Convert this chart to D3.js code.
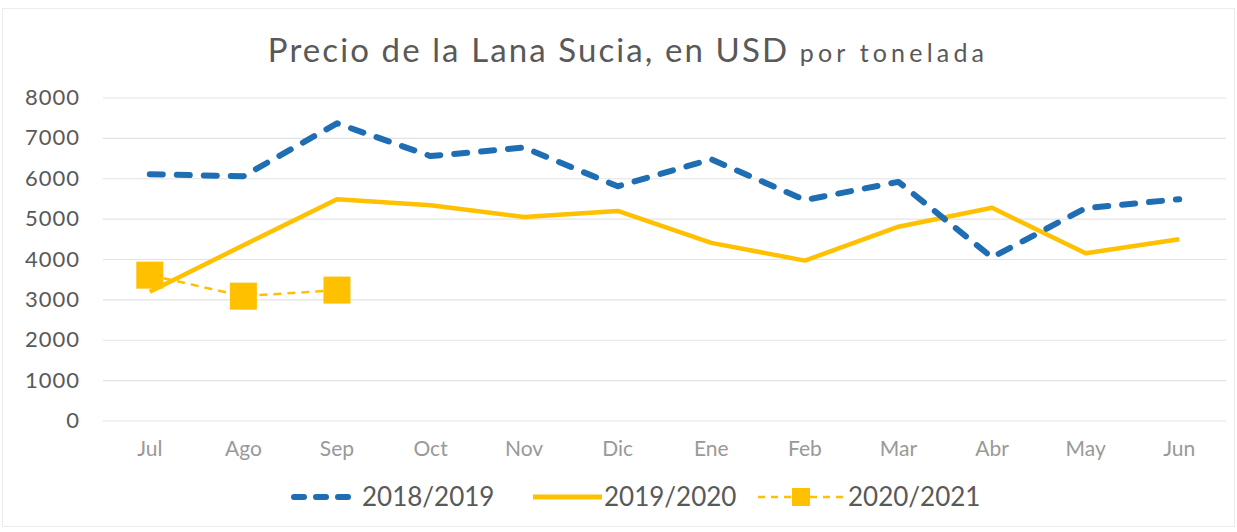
<!DOCTYPE html>
<html>
<head>
<meta charset="utf-8">
<script src="https://cdn.jsdelivr.net/npm/d3@7"></script>
<style>
  body { margin: 0; background: #fff; }
  text { font-family: Lato, "Open Sans", sans-serif; }
</style>
</head>
<body>
<div id="chart"></div>
<script>
var w = 1237, h = 532;

// data
var months = ["Jul", "Ago", "Sep", "Oct", "Nov", "Dic", "Ene", "Feb", "Mar", "Abr", "May", "Jun"];
var s1819 = [6100, 6050, 7360, 6550, 6760, 5800, 6470, 5460, 5910, 4040, 5260, 5480];
var s1920 = [3190, 4340, 5480, 5330, 5040, 5190, 4400, 3960, 4800, 5270, 4140, 4490];
var s2021 = [3600, 3080, 3230];
var yTicks = [0, 1000, 2000, 3000, 4000, 5000, 6000, 7000, 8000];

var blue = "#1f6db3", gold = "#ffc000";

var svg = d3.select("#chart").append("svg")
    .attr("width", w)
    .attr("height", h);

// faint outer frame
svg.append("rect")
    .attr("x", 2.5).attr("y", 8.5)
    .attr("width", w - 5).attr("height", h - 14)
    .attr("fill", "none")
    .attr("stroke", "#ececec");

var x = d3.scaleBand().domain(months).range([103, 1226]);
var y = d3.scaleLinear().domain([0, 8000]).range([420.5, 97.5]);
var cx = function(d, i) { return x(months[i]) + x.bandwidth() / 2; };

// title
var title = svg.append("text")
    .attr("x", 628).attr("y", 62)
    .attr("text-anchor", "middle")
    .attr("fill", "#595959");
title.append("tspan").attr("font-size", 33).attr("letter-spacing", 2.1).text("Precio de la Lana Sucia, en USD ");
title.append("tspan").attr("font-size", 25).attr("letter-spacing", 4.2).text("por tonelada");

// grid + y axis
var yAxis = svg.append("g")
    .attr("transform", "translate(103,0)")
    .call(d3.axisLeft(y).tickValues(yTicks).tickSize(-1123).tickPadding(23).tickFormat(d3.format("d")));
yAxis.select(".domain").remove();
yAxis.selectAll(".tick line").attr("stroke", "#e3e3e3").attr("stroke-width", 1.2);
yAxis.selectAll(".tick text")
    .attr("font-size", 22)
    .attr("letter-spacing", 1)
    .attr("fill", "#595959")
    .attr("font-family", "Lato, sans-serif");

// x axis labels
var xAxis = svg.append("g")
    .attr("transform", "translate(0,420)")
    .call(d3.axisBottom(x).tickSize(0).tickPadding(21));
xAxis.select(".domain").remove();
xAxis.selectAll(".tick text")
    .attr("font-size", 21)
    .attr("fill", "#999999")
    .attr("font-family", "Lato, sans-serif");

var line = d3.line()
    .x(cx)
    .y(function(d) { return y(d); });

svg.append("path")
    .datum(s1920)
    .attr("d", line)
    .attr("fill", "none")
    .attr("stroke", gold)
    .attr("stroke-width", 4.5)
    .attr("stroke-linejoin", "round");

svg.append("path")
    .datum(s1819)
    .attr("d", line)
    .attr("fill", "none")
    .attr("stroke", blue)
    .attr("stroke-width", 6)
    .attr("stroke-dasharray", "13,14")
    .attr("stroke-linecap", "round")
    .attr("stroke-linejoin", "round");

svg.append("path")
    .datum(s2021)
    .attr("d", line)
    .attr("fill", "none")
    .attr("stroke", gold)
    .attr("stroke-width", 2.5)
    .attr("stroke-dasharray", "8,6");

var sq = 27;
svg.selectAll("rect.mk")
    .data(s2021)
    .enter().append("rect")
    .attr("class", "mk")
    .attr("x", function(d, i) { return cx(d, i) - sq / 2; })
    .attr("y", function(d) { return y(d) - sq / 2; })
    .attr("width", sq)
    .attr("height", sq)
    .attr("fill", gold);

// legend
var legend = [
    { name: "2018/2019", x0: 294, x1: 356, tx: 362, color: blue, width: 6, dash: "10,12", cap: "round", marker: false },
    { name: "2019/2020", x0: 533, x1: 602, tx: 604, color: gold, width: 5, dash: null, cap: "butt", marker: false },
    { name: "2020/2021", x0: 758, x1: 844, tx: 848, color: gold, width: 2.5, dash: "7,6", cap: "butt", marker: true }
];
var lg = svg.selectAll("g.lg").data(legend).enter().append("g")
    .attr("class", "lg")
    .attr("transform", "translate(0,497)");
lg.append("line")
    .attr("x1", function(d) { return d.x0; })
    .attr("x2", function(d) { return d.x1; })
    .attr("stroke", function(d) { return d.color; })
    .attr("stroke-width", function(d) { return d.width; })
    .attr("stroke-dasharray", function(d) { return d.dash; })
    .attr("stroke-linecap", function(d) { return d.cap; });
lg.filter(function(d) { return d.marker; }).append("rect")
    .attr("x", function(d) { return (d.x0 + d.x1) / 2 - 9; })
    .attr("y", -9).attr("width", 18).attr("height", 18)
    .attr("fill", gold);
lg.append("text")
    .attr("x", function(d) { return d.tx; })
    .attr("y", 9)
    .attr("font-size", 26)
    .attr("fill", "#595959")
    .text(function(d) { return d.name; });
</script>
</body>
</html>
